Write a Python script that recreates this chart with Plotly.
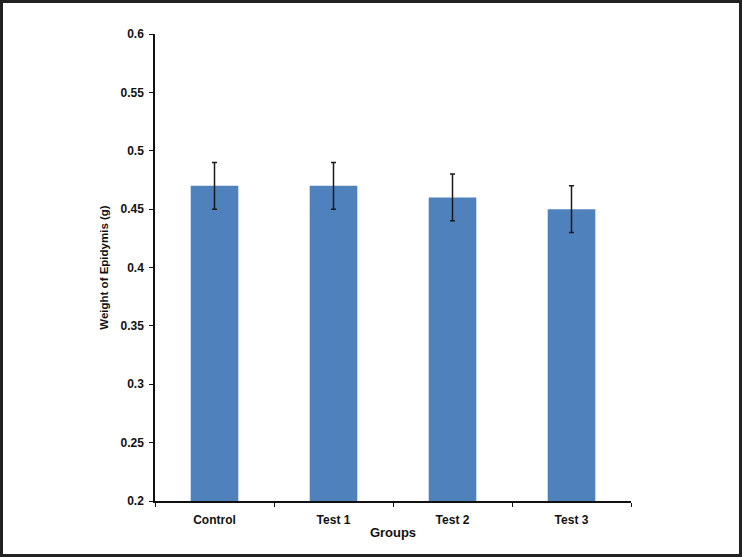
import plotly.graph_objs as go

groups = ["Control", "Test 1", "Test 2", "Test 3"]
weights = [0.47, 0.47, 0.46, 0.45]
errors = [0.02, 0.02, 0.02, 0.02]

W, H = 742, 557
L, R, T, B = 155, 111, 34, 56
pw = W - L - R
ph = H - T - B

fig = go.Figure(go.Bar(
    x=groups,
    y=weights,
    marker=dict(color='#4F81BD', line=dict(width=0)),
    error_y=dict(type='data', array=errors, color='#1a1a1a', thickness=1.5, width=2.5),
))

fig.update_layout(
    width=W,
    height=H,
    margin=dict(l=L, r=R, t=T, b=B, pad=0),
    plot_bgcolor='white',
    paper_bgcolor='white',
    bargap=0.6,
    showlegend=False,
    font=dict(family='Liberation Sans, Arial', size=12, color='#111111', weight='bold'),
    xaxis=dict(
        showline=True, linecolor='#111111', linewidth=1.5,
        ticks='outside', ticklen=4, tickcolor='#111111', tickson='boundaries',
        ticklabelstandoff=7,
        showgrid=False,
        title=dict(text='Groups', font=dict(size=13, weight='bold'), standoff=2),
    ),
    yaxis=dict(
        range=[0.2, 0.6], dtick=0.05, tick0=0.2,
        showline=True, linecolor='#111111', linewidth=1.5,
        ticks='outside', ticklen=4, tickcolor='#111111',
        ticklabelstandoff=3,
        showgrid=False, zeroline=False,
        title=dict(text='Weight of Epidymis (g)', font=dict(size=11.5, weight='bold'), standoff=9),
    ),
)

# dark frame around the whole picture
fig.add_shape(
    type='rect', xref='paper', yref='paper',
    x0=-(L - 1.5) / pw, x1=1 + (R - 1.5) / pw,
    y0=-(B - 1.5) / ph, y1=1 + (T - 1.5) / ph,
    line=dict(color='#222222', width=3),
)

fig.write_html("out.html", config=dict(displayModeBar=False),
               post_script="document.body.style.margin='0';")
